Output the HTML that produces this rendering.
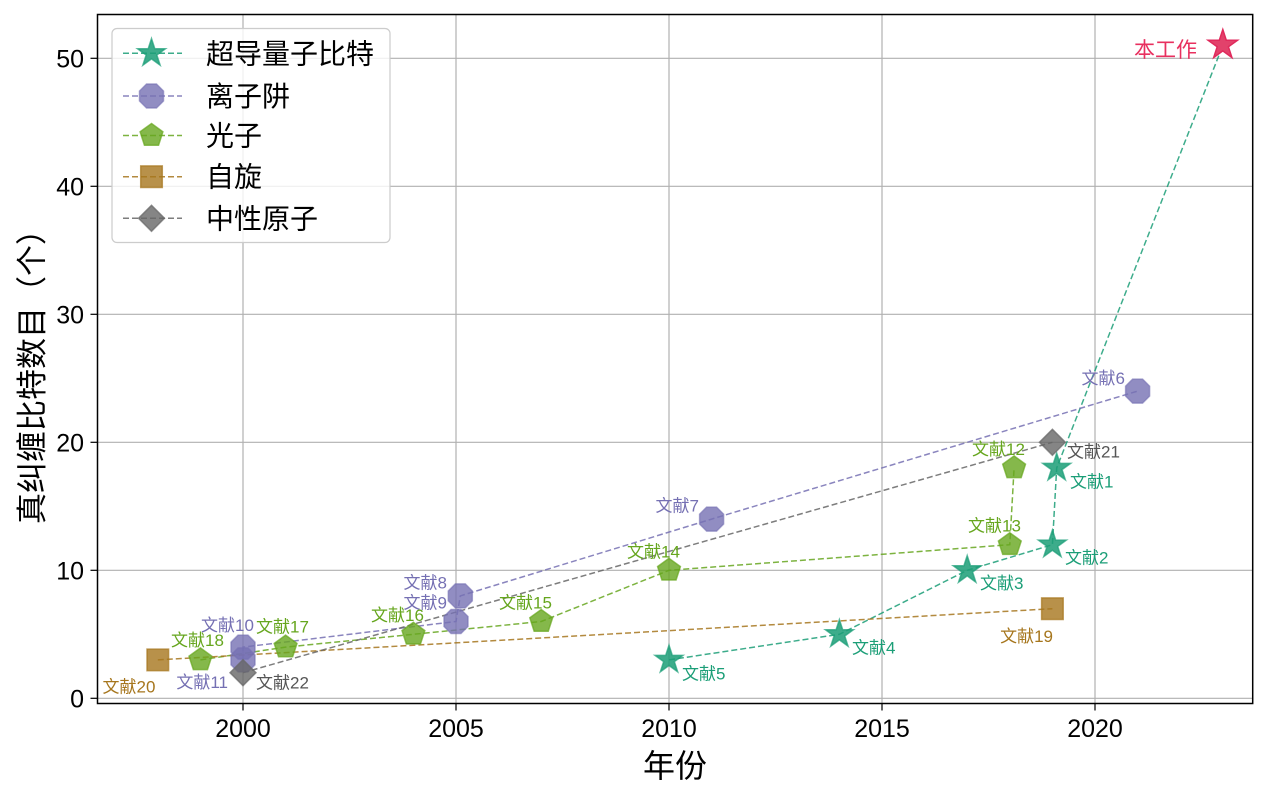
<!DOCTYPE html>
<html>
<head>
<meta charset="utf-8">
<style>
  html, body { margin: 0; padding: 0; background: #ffffff; }
  body { width: 1268px; height: 796px; overflow: hidden; }
  svg { display: block; }
  text { font-family: "Liberation Sans", "WenQuanYi Zen Hei", "Noto Sans CJK SC", sans-serif; }
</style>
</head>
<body>
<svg width="1268" height="796" viewBox="0 0 1268 796" xmlns="http://www.w3.org/2000/svg">
  <defs>
    <polygon id="star" points="0,-14.7 3.30,-4.54 13.98,-4.54 5.34,1.73 8.64,11.89 0,5.62 -8.64,11.89 -5.34,1.73 -13.98,-4.54 -3.30,-4.54"/>
    <polygon id="oct" points="12.01,4.97 4.97,12.01 -4.97,12.01 -12.01,4.97 -12.01,-4.97 -4.97,-12.01 4.97,-12.01 12.01,-4.97"/>
    <polygon id="pent" points="0,-12 11.41,-3.71 7.05,9.71 -7.05,9.71 -11.41,-3.71"/>
    <rect id="sq" x="-10.8" y="-10.8" width="21.6" height="21.6"/>
    <polygon id="dia" points="0,-13 13,0 0,13 -13,0"/>
  </defs>

  <rect x="0" y="0" width="1268" height="796" fill="#ffffff"/>

  <!-- grid -->
  <g stroke="#b0b0b0" stroke-width="1.2">
    <line x1="243" y1="14.5" x2="243" y2="703.5"/>
    <line x1="456" y1="14.5" x2="456" y2="703.5"/>
    <line x1="669" y1="14.5" x2="669" y2="703.5"/>
    <line x1="882" y1="14.5" x2="882" y2="703.5"/>
    <line x1="1095" y1="14.5" x2="1095" y2="703.5"/>
    <line x1="97.5" y1="698.3" x2="1252.7" y2="698.3"/>
    <line x1="97.5" y1="570.3" x2="1252.7" y2="570.3"/>
    <line x1="97.5" y1="442.3" x2="1252.7" y2="442.3"/>
    <line x1="97.5" y1="314.3" x2="1252.7" y2="314.3"/>
    <line x1="97.5" y1="186.3" x2="1252.7" y2="186.3"/>
    <line x1="97.5" y1="58.3" x2="1252.7" y2="58.3"/>
  </g>

  <!-- series lines -->
  <g fill="none" stroke-width="1.5" stroke-dasharray="6,3" stroke-opacity="0.85">
    <polyline stroke="#1b9e77" points="669,659.9 839.4,634.3 967.2,570.3 1052.4,544.7 1056.7,467.9 1222.8,45.5"/>
    <polyline stroke="#7570b3" points="243,659.9 243,647.1 456,621.5 460.3,595.9 711.6,519.1 1137.6,391.1"/>
    <polyline stroke="#66a61e" points="200.4,659.9 285.6,647.1 413.4,634.3 541.2,621.5 669,570.3 1009.8,544.7 1014.1,467.9"/>
    <polyline stroke="#a6761d" points="157.8,659.9 1052.4,608.7"/>
    <polyline stroke="#666666" points="243,672.7 1052.4,442.3"/>
  </g>

  <!-- markers -->
  <g fill="#1b9e77" fill-opacity="0.85" stroke="#1b9e77" stroke-opacity="0.7" stroke-width="1.5">
    <use href="#star" transform="translate(669,659.9)"/>
    <use href="#star" transform="translate(839.4,634.3)"/>
    <use href="#star" transform="translate(967.2,570.3)"/>
    <use href="#star" transform="translate(1052.4,544.7)"/>
    <use href="#star" transform="translate(1056.7,467.9)"/>
  </g>
  <g fill="#7570b3" fill-opacity="0.8" stroke="#7570b3" stroke-opacity="0.6" stroke-width="1.5">
    <use href="#oct" transform="translate(243,659.9)"/>
    <use href="#oct" transform="translate(243,647.1)"/>
    <use href="#oct" transform="translate(456,621.5)"/>
    <use href="#oct" transform="translate(460.3,595.9)"/>
    <use href="#oct" transform="translate(711.6,519.1)"/>
    <use href="#oct" transform="translate(1137.6,391.1)"/>
  </g>
  <g fill="#66a61e" fill-opacity="0.8" stroke="#66a61e" stroke-opacity="0.7" stroke-width="1.5">
    <use href="#pent" transform="translate(200.4,659.9)"/>
    <use href="#pent" transform="translate(285.6,647.1)"/>
    <use href="#pent" transform="translate(413.4,634.3)"/>
    <use href="#pent" transform="translate(541.2,621.5)"/>
    <use href="#pent" transform="translate(669,570.3)"/>
    <use href="#pent" transform="translate(1009.8,544.7)"/>
    <use href="#pent" transform="translate(1014.1,467.9)"/>
  </g>
  <g fill="#a6761d" fill-opacity="0.8" stroke="#a6761d" stroke-opacity="0.7" stroke-width="1.5">
    <use href="#sq" transform="translate(157.8,659.9)"/>
    <use href="#sq" transform="translate(1052.4,608.7)"/>
  </g>
  <g fill="#666666" fill-opacity="0.8" stroke="#666666" stroke-opacity="0.7" stroke-width="1.5">
    <use href="#dia" transform="translate(243,672.7)"/>
    <use href="#dia" transform="translate(1052.4,442.3)"/>
  </g>

  <!-- this work star -->
  <polygon transform="translate(1222.8,45)" points="0,-15.5 3.48,-4.79 14.74,-4.79 5.63,1.83 9.11,12.54 0,5.92 -9.11,12.54 -5.63,1.83 -14.74,-4.79 -3.48,-4.79" fill="#e2426b" stroke="#e02a5c" stroke-width="1.5"/>
  <text x="1197" y="57" font-size="21" fill="#e8305f" text-anchor="end">本工作</text>

  <!-- point labels -->
  <g font-size="17">
    <g fill="#1b9e77">
      <text x="1070" y="487.5">文献1</text>
      <text x="1065" y="563.5">文献2</text>
      <text x="980" y="589">文献3</text>
      <text x="852" y="653.3">文献4</text>
      <text x="682" y="679.3">文献5</text>
    </g>
    <g fill="#7570b3">
      <text x="1125" y="384" text-anchor="end">文献6</text>
      <text x="699" y="511.7" text-anchor="end">文献7</text>
      <text x="447" y="588.7" text-anchor="end">文献8</text>
      <text x="447" y="608.7" text-anchor="end">文献9</text>
      <text x="201" y="631">文献10</text>
      <text x="228" y="688" text-anchor="end">文献11</text>
    </g>
    <g fill="#66a61e">
      <text x="972" y="455">文献12</text>
      <text x="968" y="531.7">文献13</text>
      <text x="627" y="557.7">文献14</text>
      <text x="499" y="608.7">文献15</text>
      <text x="371" y="621">文献16</text>
      <text x="256" y="632.7">文献17</text>
      <text x="171" y="646">文献18</text>
    </g>
    <g fill="#a6761d">
      <text x="1053" y="642" text-anchor="end">文献19</text>
      <text x="102.5" y="692.7">文献20</text>
    </g>
    <g fill="#555555">
      <text x="1067" y="457.7">文献21</text>
      <text x="256" y="688.3">文献22</text>
    </g>
  </g>

  <!-- legend -->
  <rect x="112" y="28.5" width="278" height="214" rx="5" ry="5" fill="#ffffff" fill-opacity="0.8" stroke="#cccccc" stroke-width="1.2"/>
  <g fill="none" stroke-width="1.5" stroke-dasharray="6,3" stroke-opacity="0.85">
    <line x1="123" y1="53.3" x2="182" y2="53.3" stroke="#1b9e77"/>
    <line x1="123" y1="96" x2="182" y2="96" stroke="#7570b3"/>
    <line x1="123" y1="135.5" x2="182" y2="135.5" stroke="#66a61e"/>
    <line x1="123" y1="176.7" x2="182" y2="176.7" stroke="#a6761d"/>
    <line x1="123" y1="218.3" x2="182" y2="218.3" stroke="#666666"/>
  </g>
  <use href="#star" transform="translate(151.5,53.3)" fill="#1b9e77" fill-opacity="0.85" stroke="#1b9e77" stroke-opacity="0.7" stroke-width="1.5"/>
  <use href="#oct" transform="translate(151.5,96)" fill="#7570b3" fill-opacity="0.8" stroke="#7570b3" stroke-opacity="0.6" stroke-width="1.5"/>
  <use href="#pent" transform="translate(151.5,135.5)" fill="#66a61e" fill-opacity="0.8" stroke="#66a61e" stroke-opacity="0.7" stroke-width="1.5"/>
  <use href="#sq" transform="translate(151.5,176.7)" fill="#a6761d" fill-opacity="0.8" stroke="#a6761d" stroke-opacity="0.7" stroke-width="1.5"/>
  <use href="#dia" transform="translate(151.5,218.3)" fill="#666666" fill-opacity="0.8" stroke="#666666" stroke-opacity="0.7" stroke-width="1.5"/>
  <g font-size="28" fill="#000000">
    <text x="206" y="63.5">超导量子比特</text>
    <text x="206" y="106">离子阱</text>
    <text x="206" y="145.5">光子</text>
    <text x="206" y="186.7">自旋</text>
    <text x="206" y="228.3">中性原子</text>
  </g>

  <!-- spines -->
  <rect x="97.5" y="14.5" width="1155.2" height="689" fill="none" stroke="#000000" stroke-width="1.5"/>

  <!-- ticks -->
  <g stroke="#000000" stroke-width="1.2">
    <line x1="243" y1="703.5" x2="243" y2="710.5"/>
    <line x1="456" y1="703.5" x2="456" y2="710.5"/>
    <line x1="669" y1="703.5" x2="669" y2="710.5"/>
    <line x1="882" y1="703.5" x2="882" y2="710.5"/>
    <line x1="1095" y1="703.5" x2="1095" y2="710.5"/>
    <line x1="90.5" y1="698.3" x2="97.5" y2="698.3"/>
    <line x1="90.5" y1="570.3" x2="97.5" y2="570.3"/>
    <line x1="90.5" y1="442.3" x2="97.5" y2="442.3"/>
    <line x1="90.5" y1="314.3" x2="97.5" y2="314.3"/>
    <line x1="90.5" y1="186.3" x2="97.5" y2="186.3"/>
    <line x1="90.5" y1="58.3" x2="97.5" y2="58.3"/>
  </g>

  <!-- tick labels -->
  <g font-size="25" fill="#000000" text-anchor="middle">
    <text x="243" y="737">2000</text>
    <text x="456" y="737">2005</text>
    <text x="669" y="737">2010</text>
    <text x="882" y="737">2015</text>
    <text x="1095" y="737">2020</text>
  </g>
  <g font-size="25" fill="#000000" text-anchor="end">
    <text x="84" y="707.3">0</text>
    <text x="84" y="579.3">10</text>
    <text x="84" y="451.3">20</text>
    <text x="84" y="323.3">30</text>
    <text x="84" y="195.3">40</text>
    <text x="84" y="67.3">50</text>
  </g>

  <!-- axis labels -->
  <text x="675" y="777" font-size="32" fill="#000000" text-anchor="middle">年份</text>
  <text transform="translate(43,369) rotate(-90)" font-size="31" fill="#000000" text-anchor="middle">真纠缠比特数目（个）</text>
</svg>
</body>
</html>
